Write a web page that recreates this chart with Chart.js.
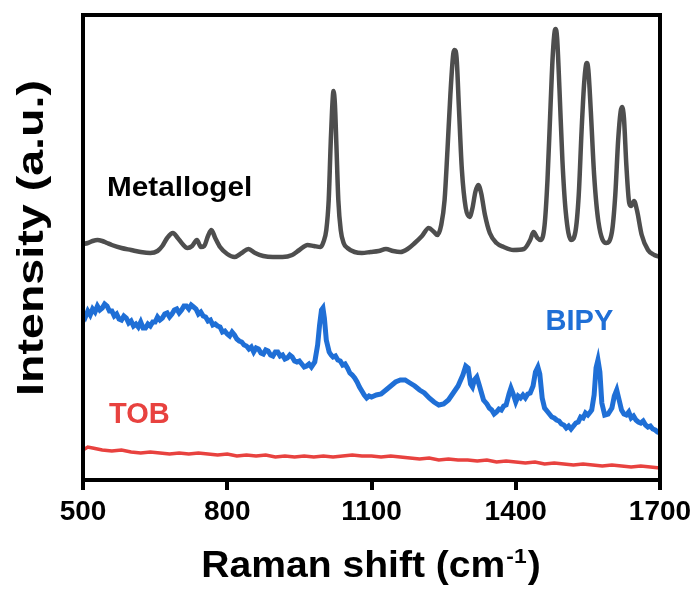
<!DOCTYPE html>
<html>
<head>
<meta charset="utf-8">
<script src="https://cdn.jsdelivr.net/npm/chart.js@4.4.1/dist/chart.umd.min.js"></script>
<style>
  html, body { margin: 0; padding: 0; background: #fff; }
  #wrap { width: 699px; height: 589px; }
</style>
</head>
<body>
<div id="wrap"><canvas id="c"></canvas></div>
<script>
// tick labels on the Raman shift axis
const xTicks = [500, 800, 1100, 1400, 1700];

// Metallogel spectrum (Raman shift, intensity a.u.)
const metalX = [500, 510, 520, 530, 540, 550, 560, 580, 600, 620, 640, 655, 665, 675, 687, 697, 707, 717, 727, 737,
  745, 752, 760, 767, 775, 785, 800, 815, 830, 844, 858, 875, 895, 915, 935, 950, 967, 980, 994, 1000,
  1006, 1011, 1015, 1018, 1021, 1024, 1027, 1031, 1036, 1042, 1050, 1065, 1080, 1098, 1115, 1130, 1145, 1160, 1175, 1190,
  1205, 1219, 1230, 1237, 1245, 1252, 1258, 1264, 1270, 1273, 1277, 1282, 1288, 1296, 1304, 1310, 1316, 1322, 1328, 1336,
  1346, 1360, 1375, 1395, 1417, 1430, 1437, 1445, 1452, 1460, 1466, 1472, 1477, 1481, 1483, 1486, 1491, 1497, 1504, 1515,
  1524, 1531, 1537, 1542, 1546, 1548, 1551, 1556, 1563, 1572, 1588, 1600, 1607, 1613, 1618, 1621, 1625, 1630, 1636, 1640,
  1646, 1652, 1662, 1675, 1688, 1700];
const metalY = [47.2, 47.4, 47.8, 48.0, 47.8, 47.4, 47.0, 46.4, 46.0, 45.6, 45.4, 45.8, 46.8, 48.4, 49.4, 48.4, 47.2, 46.4, 46.8, 48.0,
  46.6, 46.8, 48.8, 50.0, 48.4, 46.6, 45.2, 44.6, 45.4, 46.2, 45.4, 44.8, 44.6, 44.6, 45.0, 46.0, 47.0, 46.8, 46.6, 47.6,
  50.0, 56.0, 67.0, 74.0, 77.8, 75.0, 67.0, 56.0, 50.0, 47.4, 46.4, 45.6, 45.4, 45.6, 45.8, 46.2, 45.8, 45.6, 46.2, 47.4,
  48.8, 50.4, 49.6, 49.0, 51.0, 56.0, 66.0, 77.0, 85.2, 86.0, 84.4, 74.0, 62.0, 54.4, 52.6, 54.4, 57.6, 59.0, 57.4, 53.0,
  49.4, 47.4, 46.6, 46.0, 46.2, 48.0, 49.6, 48.4, 48.0, 51.0, 60.0, 74.0, 85.0, 89.8, 90.2, 88.4, 78.0, 64.0, 53.6, 48.0,
  49.6, 57.0, 70.0, 79.0, 83.0, 83.4, 82.0, 74.0, 61.0, 51.6, 47.4, 49.6, 57.0, 68.0, 73.6, 74.6, 72.4, 63.0, 55.4, 54.8,
  55.8, 54.0, 49.0, 46.0, 45.0, 44.6];

// BIPY spectrum
const bipyX = [
  500, 505, 510, 515, 520, 525, 530, 535, 540, 545, 550, 555, 560, 565, 570, 575, 580, 585, 590, 595,
  600, 605, 610, 615, 620, 625, 630, 635, 640, 645, 650, 655, 660, 665, 670, 675, 680, 685, 690, 695,
  700, 705, 710, 715, 720, 725, 730, 735, 740, 745, 750, 755, 760, 765, 770, 775, 780, 785, 790, 795,
  800, 805, 810, 815, 820, 825, 830, 835, 840, 845, 850, 855, 860, 865, 870, 875, 880, 885, 890, 895,
  900, 905, 910, 915, 920, 925, 930, 935, 940, 945, 950, 955, 960, 965, 970, 975, 982, 988, 992, 996,
  999, 1002, 1006, 1012, 1016, 1020, 1025, 1030, 1035, 1040, 1045, 1050, 1055, 1060, 1065, 1070, 1075, 1080, 1085, 1090,
  1095, 1100, 1110, 1120, 1130, 1140, 1150, 1160, 1170, 1180, 1190, 1200, 1210, 1220, 1230, 1240, 1250, 1260, 1270, 1280,
  1290, 1296, 1301, 1306, 1310, 1314, 1319, 1324, 1333, 1340, 1345, 1350, 1355, 1360, 1365, 1370, 1375, 1380, 1386, 1390,
  1394, 1400, 1405, 1410, 1415, 1420, 1425, 1430, 1436, 1441, 1446, 1450, 1455, 1460, 1465, 1470, 1475, 1480, 1485, 1490,
  1495, 1500, 1505, 1510, 1515, 1520, 1525, 1530, 1535, 1540, 1545, 1550, 1555, 1558, 1563, 1567, 1571, 1575, 1579, 1585,
  1592, 1600, 1605, 1610, 1614, 1620, 1625, 1630, 1635, 1640, 1645, 1650, 1655, 1660, 1665, 1670, 1675, 1680, 1685, 1690,
  1695, 1700];
const bipyY = [
  33.4, 32.6, 33.8, 33.0, 34.2, 33.6, 34.8, 34.0, 34.4, 35.2, 34.8, 33.8, 33.8, 32.8, 33.2, 32.2, 32.0, 32.8, 32.4, 31.4,
  31.8, 30.8, 31.2, 30.6, 31.6, 30.4, 30.4, 31.2, 30.8, 31.6, 31.6, 32.6, 32.0, 32.4, 33.2, 33.4, 32.6, 33.2, 34.0, 34.2,
  33.4, 34.0, 34.8, 34.8, 34.2, 35.0, 34.6, 34.2, 33.2, 33.6, 32.8, 32.6, 31.8, 32.0, 31.0, 31.2, 30.8, 30.6, 29.6, 29.8,
  29.2, 28.8, 29.6, 29.0, 28.2, 27.8, 27.6, 27.0, 26.8, 26.2, 26.6, 25.6, 26.4, 26.2, 25.4, 25.2, 26.0, 25.8, 25.0, 24.8,
  25.6, 25.6, 24.8, 25.0, 24.2, 24.4, 25.0, 24.6, 23.8, 23.6, 23.8, 23.2, 22.6, 22.8, 23.2, 22.6, 23.6, 27.0, 31.0, 34.0,
  34.4, 32.4, 28.0, 25.6, 25.0, 24.6, 24.8, 24.0, 23.8, 23.0, 23.2, 22.4, 21.4, 21.0, 20.4, 19.6, 18.6, 17.8, 17.0, 16.4,
  16.8, 16.6, 17.0, 17.2, 18.0, 18.8, 19.6, 20.0, 20.0, 19.4, 18.8, 18.0, 17.4, 16.4, 15.6, 15.0, 15.2, 16.0, 17.4, 18.8,
  21.0, 22.8, 22.4, 19.2, 18.6, 20.0, 20.6, 19.0, 16.0, 15.2, 14.4, 14.0, 13.2, 13.6, 14.2, 14.0, 14.8, 15.0, 17.2, 18.4,
  17.4, 15.6, 16.8, 16.4, 17.0, 16.4, 17.2, 17.4, 18.8, 21.6, 22.6, 21.2, 16.4, 14.4, 13.8, 13.2, 12.6, 12.4, 12.0, 11.8,
  11.2, 11.0, 10.4, 10.8, 10.2, 10.8, 11.4, 11.6, 12.6, 12.4, 13.4, 13.0, 13.6, 14.0, 17.0, 22.4, 24.0, 21.6, 15.4, 13.0,
  13.2, 14.4, 16.8, 18.0, 16.4, 14.0, 13.2, 13.0, 13.6, 12.4, 12.8, 12.0, 11.6, 11.4, 11.8, 11.0, 10.6, 10.8, 10.2, 10.0,
  9.6, 9.4];

// TOB spectrum
const tobX = [500, 510, 520, 540, 560, 580, 600, 620, 640, 660, 680, 700, 720, 740, 760, 780, 800, 820, 840, 860,
  880, 900, 920, 940, 960, 980, 1000, 1020, 1040, 1060, 1080, 1100, 1120, 1140, 1160, 1180, 1200, 1220, 1240, 1260,
  1280, 1300, 1320, 1340, 1360, 1380, 1400, 1420, 1440, 1460, 1480, 1500, 1520, 1540, 1560, 1580, 1600, 1620, 1640, 1660,
  1680, 1700];
const tobY = [6.0, 6.6, 6.4, 6.0, 5.8, 6.0, 5.6, 5.4, 5.6, 5.4, 5.2, 5.4, 5.2, 5.4, 5.2, 5.0, 5.2, 4.8, 5.0, 4.8,
  5.0, 4.6, 4.8, 4.6, 4.8, 4.6, 4.8, 4.6, 4.8, 5.0, 4.8, 4.8, 4.6, 4.8, 4.6, 4.4, 4.2, 4.4, 4.0, 4.2,
  4.0, 4.0, 3.8, 4.0, 3.6, 3.8, 3.6, 3.4, 3.6, 3.2, 3.4, 3.2, 3.0, 3.2, 3.0, 2.8, 3.0, 2.8, 2.6, 2.8,
  2.6, 2.4];

function points(xs, ys) {
  return xs.map(function(x, i) { return {x: x, y: ys[i]}; });
}

const FONT = '"Liberation Sans", Arial, sans-serif';

// text drawn with an optional horizontal stretch
function stretchText(ctx, text, x, y, size, color, sx, align) {
  ctx.save();
  ctx.font = 'bold ' + size + 'px ' + FONT;
  ctx.fillStyle = color;
  ctx.textBaseline = 'alphabetic';
  ctx.textAlign = 'left';
  const w = ctx.measureText(text).width * sx;
  let left = x;
  if (align == 'center') left = x - w / 2;
  ctx.translate(left, y);
  ctx.scale(sx, 1);
  ctx.fillText(text, 0, 0);
  ctx.restore();
  return w;
}

const decor = {
  id: 'decor',
  afterDraw(chart) {
    const ctx = chart.ctx;
    const a = chart.chartArea;
    const xs = chart.scales.x, ys = chart.scales.y;

    // tick marks, then the frame
    ctx.save();
    ctx.strokeStyle = '#000';
    ctx.fillStyle = '#000';
    for (const v of xTicks) {
      const px = Math.round(xs.getPixelForValue(v));
      ctx.fillRect(px - 2, a.bottom, 4, 10);
    }
    ctx.lineWidth = 4;
    ctx.strokeRect(a.left, a.top, a.right - a.left, a.bottom - a.top);
    ctx.restore();

    // series labels
    stretchText(ctx, 'Metallogel', xs.getPixelForValue(550), ys.getPixelForValue(56.8), 27, '#000', 1.1);
    stretchText(ctx, 'BIPY', xs.getPixelForValue(1462), ys.getPixelForValue(30), 29, '#1f6fd6', 1.0);
    stretchText(ctx, 'TOB', xs.getPixelForValue(554), ys.getPixelForValue(11.4), 29, '#e8423f', 1.0);

    // x axis title with superscript
    ctx.save();
    const sx = 1.085;
    ctx.font = 'bold 36px ' + FONT;
    const main = 'Raman shift (cm';
    const w1 = ctx.measureText(main).width;
    ctx.font = 'bold 21px ' + FONT;
    const w2 = ctx.measureText('-1').width;
    ctx.font = 'bold 36px ' + FONT;
    const w3 = ctx.measureText(')').width;
    const total = (w1 + w2 + w3 + 2) * sx;
    ctx.translate(371 - total / 2, 577);
    ctx.scale(sx, 1);
    ctx.fillStyle = '#000';
    ctx.textBaseline = 'alphabetic';
    ctx.fillText(main, 0, 0);
    ctx.font = 'bold 21px ' + FONT;
    ctx.fillText('-1', w1 + 1, -14);
    ctx.font = 'bold 36px ' + FONT;
    ctx.fillText(')', w1 + w2 + 2, 0);
    ctx.restore();

    // y axis title
    ctx.save();
    ctx.translate(43, 238);
    ctx.rotate(-Math.PI / 2);
    stretchText(ctx, 'Intensity (a.u.)', 0, 0, 37, '#000', 1.26, 'center');
    ctx.restore();
  }
};

new Chart(document.getElementById('c'), {
  type: 'line',
  data: {
    datasets: [
      {label: 'Metallogel', data: points(metalX, metalY), borderColor: '#4e4e4e', borderWidth: 4.5,
       pointRadius: 0, cubicInterpolationMode: 'monotone'},
      {label: 'BIPY', data: points(bipyX, bipyY), borderColor: '#1f6fd6', borderWidth: 5,
       pointRadius: 0, tension: 0},
      {label: 'TOB', data: points(tobX, tobY), borderColor: '#e8423f', borderWidth: 3.5,
       pointRadius: 0, tension: 0}
    ]
  },
  options: {
    responsive: true,
    maintainAspectRatio: false,
    animation: false,
    layout: {padding: {left: 83, top: 15, right: 39, bottom: 0}},
    plugins: {legend: {display: false}, tooltip: {enabled: false}},
    scales: {
      x: {
        type: 'linear',
        min: 500,
        max: 1700,
        afterBuildTicks: function(scale) {
          scale.ticks = xTicks.map(function(v) { return {value: v}; });
        },
        afterFit: function(scale) {
          scale.height = 109;
          scale.paddingLeft = 0;
          scale.paddingRight = 0;
        },
        border: {display: false},
        grid: {display: false},
        ticks: {
          color: '#000', padding: 7, maxRotation: 0,
          font: {family: FONT, size: 28, weight: 'bold'},
          callback: function(v) { return String(v); }
        }
      },
      y: {
        display: false,
        min: 0,
        max: 93
      }
    }
  },
  plugins: [decor]
});
</script>
</body>
</html>
